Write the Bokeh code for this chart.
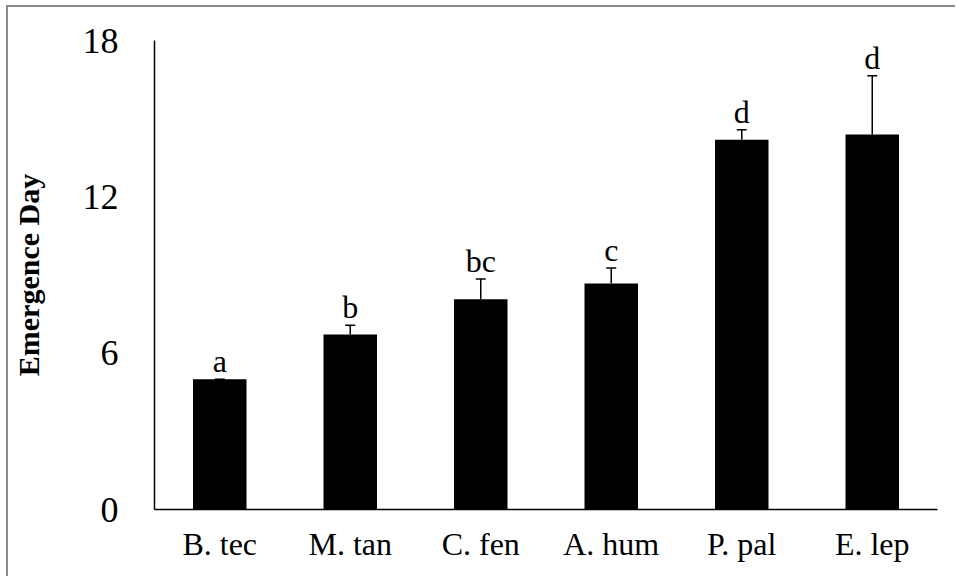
from bokeh.plotting import figure
from bokeh.models import ColumnDataSource, Whisker, FixedTicker, Range1d
from bokeh.core.properties import value
from bokeh.embed import file_html
from bokeh.resources import INLINE

species = ["B. tec", "M. tan", "C. fen", "A. hum", "P. pal", "E. lep"]
emergence_day = [5.0, 6.72, 8.07, 8.67, 14.19, 14.39]
std_error = [0.0, 0.35, 0.78, 0.60, 0.38, 2.26]
group_letters = ["a", "b", "bc", "c", "d", "d"]
y_ticks = [0, 6, 12, 18]

FONT = "Liberation Serif"

upper = [v + e for v, e in zip(emergence_day, std_error)]
src = ColumnDataSource(dict(x=species, top=emergence_day, upper=upper, letters=group_letters))

p = figure(x_range=species, y_range=Range1d(0, 18), width=949, height=571,
           output_backend="svg", toolbar_location=None,
           min_border_left=146, min_border_right=20, min_border_top=33, min_border_bottom=69)

p.vbar(x="x", top="top", width=0.41, source=src, fill_color="black", line_color=None)

w = Whisker(base="x", lower="top", upper="upper", source=src, dimension="height",
            line_color="black", line_width=1.5)
w.lower_head = None
w.upper_head.size = 10
w.upper_head.line_color = "black"
w.upper_head.line_width = 1.5
p.add_layout(w)

p.text(x="x", y="upper", text="letters", source=src, y_offset=-18,
       text_align="center", text_baseline="alphabetic",
       text_font=value(FONT), text_font_size="32px", text_color="black")

p.grid.visible = False
p.outline_line_color = None
p.background_fill_color = "white"
p.border_fill_color = "white"

p.yaxis.ticker = FixedTicker(ticks=y_ticks)
p.yaxis.major_tick_line_color = None
p.yaxis.minor_tick_line_color = None
p.yaxis.major_label_text_font = FONT
p.yaxis.major_label_text_font_size = "36px"
p.yaxis.major_label_text_color = "black"
p.yaxis.major_label_standoff = 30
p.yaxis.axis_line_color = "black"
p.yaxis.axis_line_width = 1.5
p.yaxis.axis_label = "Emergence Day"
p.yaxis.axis_label_text_font = FONT
p.yaxis.axis_label_text_font_style = "bold"
p.yaxis.axis_label_text_font_size = "30px"
p.yaxis.axis_label_text_color = "black"
p.yaxis.axis_label_standoff = 35

p.xaxis.major_tick_line_color = None
p.xaxis.minor_tick_line_color = None
p.xaxis.major_label_text_font = FONT
p.xaxis.major_label_text_font_size = "32px"
p.xaxis.major_label_text_color = "black"
p.xaxis.major_label_standoff = 10
p.xaxis.axis_line_color = "black"
p.xaxis.axis_line_width = 1.5

p.styles = {"margin-left": "6px", "margin-top": "5px",
            "border-left": "2px solid #898989", "border-top": "2px solid #898989"}

open("out.html", "w").write(file_html(p, INLINE))
